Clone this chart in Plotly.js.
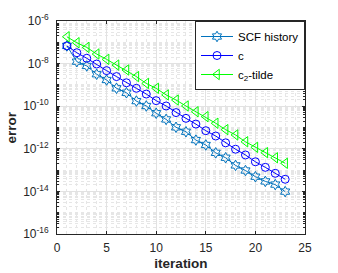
<!DOCTYPE html>
<html><head><meta charset="utf-8">
<script src="https://cdn.plot.ly/plotly-3.0.1.min.js"></script>
<style>html,body{margin:0;padding:0;background:#fff}#plot{width:338px;height:273px}</style>
</head><body><div id="plot"></div>
<script>
const iterations = [1,2,3,4,5,6,7,8,9,10,11,12,13,14,15,16,17,18,19,20,21,22,23];
// log10 of error values
const scfLog = [-7.17,-7.91,-8.11,-8.50,-8.77,-9.16,-9.37,-9.76,-9.99,-10.33,-10.62,-10.99,-11.20,-11.59,-11.82,-12.19,-12.42,-12.78,-13.02,-13.31,-13.53,-13.68,-14.01];
const cLog = [-7.17,-7.49,-7.75,-8.02,-8.33,-8.61,-8.90,-9.16,-9.43,-9.74,-9.99,-10.30,-10.57,-10.84,-11.15,-11.40,-11.72,-12.02,-12.29,-12.61,-12.87,-13.15,-13.43];
const c2Log = [-6.74,-7.02,-7.24,-7.55,-7.80,-8.07,-8.30,-8.61,-8.93,-9.16,-9.47,-9.71,-9.99,-10.26,-10.49,-10.80,-11.10,-11.35,-11.67,-11.93,-12.18,-12.42,-12.68];
const yTickExp = [-16,-14,-12,-10,-8,-6];
const xTicks = [0,5,10,15,20,25];
const seriesNames = ['SCF history','c','c<sub>2</sub>-tilde'];
const xTitle = 'iteration';
const yTitle = 'error';

const pow = a => a.map(v => Math.pow(10, v));
const font = 'Liberation Sans, Arial, sans-serif';

const traces = [
  {x: iterations, y: pow(scfLog), name: seriesNames[0], mode: 'lines+markers',
   line: {color: '#0072BD', width: 1},
   marker: {symbol: 'hexagram-open', size: 8, color: '#0072BD', line: {width: 1, color: '#0072BD'}}},
  {x: iterations, y: pow(cLog), name: seriesNames[1], mode: 'lines+markers',
   line: {color: '#0000FF', width: 1},
   marker: {symbol: 'circle-open', size: 8, color: '#0000FF', line: {width: 1, color: '#0000FF'}}},
  {x: iterations, y: pow(c2Log), name: seriesNames[2], mode: 'lines+markers',
   line: {color: '#00FF00', width: 1},
   marker: {symbol: 'triangle-left-open', size: 9, color: '#00FF00', line: {width: 1, color: '#00FF00'}}}
];

const layout = {
  width: 338, height: 273,
  margin: {l: 57, r: 33, t: 21, b: 39},
  paper_bgcolor: '#fff', plot_bgcolor: '#fff',
  font: {family: font, size: 12, color: '#262626'},
  showlegend: true,
  legend: {x: 1, xanchor: 'right', y: 1, yanchor: 'top', bgcolor: '#fff',
           bordercolor: '#262626', borderwidth: 1, font: {size: 11.5, color: '#000'},
           tracegroupgap: 0, itemwidth: 32},
  xaxis: {
    range: [0, 25], tickmode: 'array', tickvals: xTicks, ticktext: xTicks.map(String),
    ticks: 'inside', ticklen: 3, tickcolor: '#262626', mirror: 'ticks',
    showline: true, linecolor: '#262626', linewidth: 1,
    showgrid: true, gridcolor: '#e2e2e2', gridwidth: 1, zeroline: false,
    minor: {dtick: 1, showgrid: true, gridcolor: '#e6e6e6', griddash: 'dot', ticks: ''},
    title: {text: xTitle, font: {size: 13.5, color: '#262626', weight: 'bold'}, standoff: 4},
    tickfont: {size: 12, color: '#262626'}, ticklabelstandoff: 3
  },
  yaxis: {
    type: 'log', range: [-16, -6], tickmode: 'array',
    tickvals: yTickExp.map(e => Math.pow(10, e)),
    ticktext: yTickExp.map(e => '10<sup>' + e + '</sup>'),
    ticks: 'inside', ticklen: 3, tickcolor: '#262626', mirror: 'ticks',
    showline: true, linecolor: '#262626', linewidth: 1,
    showgrid: true, gridcolor: '#e2e2e2', gridwidth: 1, zeroline: false,
    minor: {dtick: 'D1', showgrid: true, gridcolor: '#e6e6e6', griddash: 'dot', ticks: 'inside', ticklen: 2, tickcolor: '#262626'},
    tickfont: {size: 12, color: '#262626'}, ticklabelstandoff: 5
  },
  annotations: [{
    text: yTitle, textangle: -90, xref: 'paper', yref: 'paper',
    x: -0.185, y: 0.5, xanchor: 'center', yanchor: 'middle', showarrow: false,
    font: {size: 13.5, color: '#262626', weight: 'bold'}
  }]
};
Plotly.newPlot('plot', traces, layout, {displayModeBar: false, staticPlot: true});
</script></body></html>
